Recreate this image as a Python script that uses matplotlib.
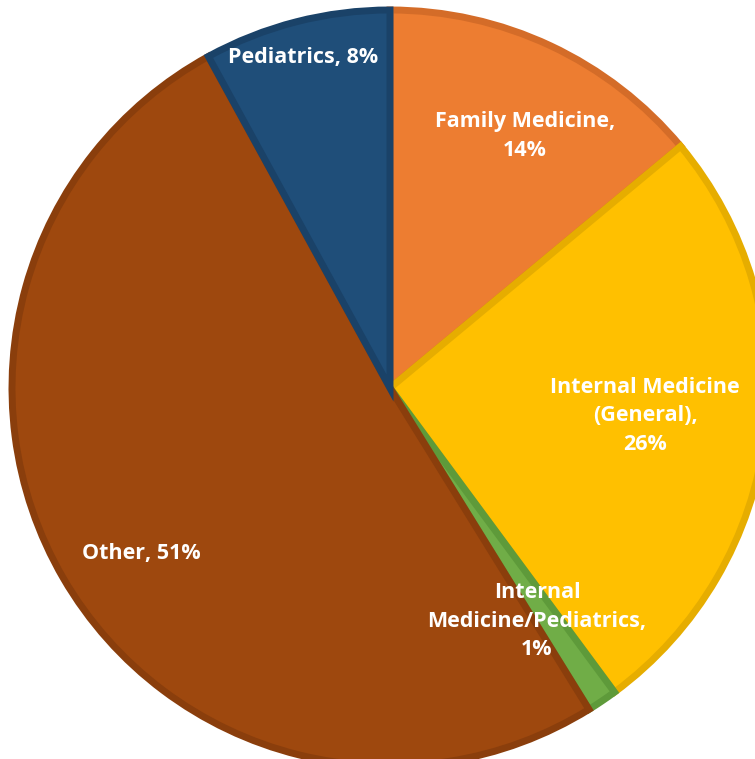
import matplotlib
matplotlib.use("Agg")
import matplotlib.pyplot as plt

categories = ["Family Medicine", "Internal Medicine (General)", "Internal Medicine/Pediatrics",
              "Other", "Pediatrics"]
values = [14, 26, 1.3, 51, 8]
label_texts = ["Family Medicine,\n14%", "Internal Medicine\n(General),\n26%",
               "Internal\nMedicine/Pediatrics,\n1%", "Other, 51%", "Pediatrics, 8%"]
colors = ["#ED7D31", "#FFC000", "#70AD47", "#9E480E", "#1F4E79"]
edge_colors = ["#D46C28", "#E6AD00", "#5E9A3A", "#8A3E0C", "#1A4268"]

# label pixel positions (center) in the reference image
label_px = [(525, 136), (645, 416), (537, 621), (141, 553), (303, 58)]

W, H = 755, 759
cx, cy, R = 390, 388, 378

fig = plt.figure(figsize=(W / 100, H / 100), dpi=100)
ax = fig.add_axes([0, 0, 1, 1])
wedges, _ = ax.pie(values, colors=colors, startangle=90, counterclock=False,
                   radius=1.0, center=(0, 0),
                   wedgeprops=dict(linewidth=5, joinstyle="miter"))
for w, ec in zip(wedges, edge_colors):
    w.set_edgecolor(ec)

for txt, (px, py) in zip(label_texts, label_px):
    ax.text((px - cx) / R, (cy - py) / R, txt, ha="center", va="center",
            color="white", fontsize=15.5, fontweight="bold", family="Open Sans",
            linespacing=1.45)

ax.set_xlim((0 - cx) / R, (W - cx) / R)
ax.set_ylim((cy - H) / R, (cy - 0) / R)
ax.set_aspect("auto")
ax.axis("off")
fig.savefig("out.png", dpi=100)
